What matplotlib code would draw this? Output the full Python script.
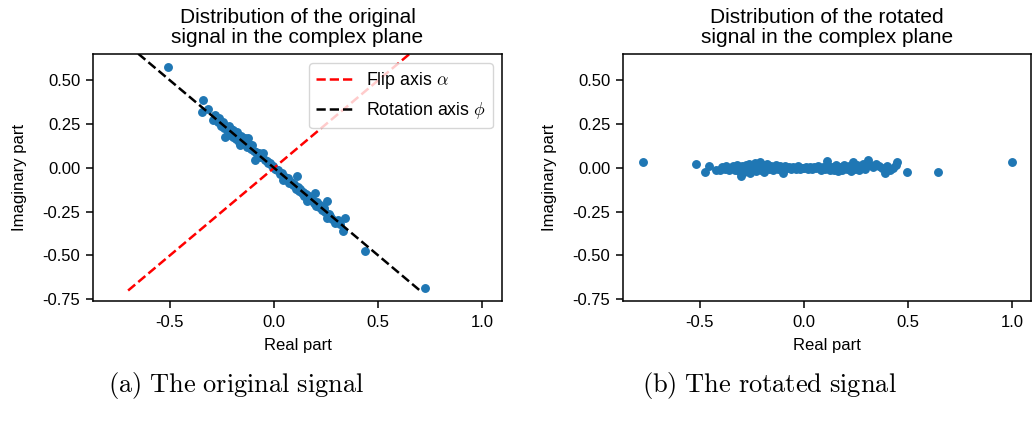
import matplotlib
matplotlib.use("Agg")
import matplotlib.pyplot as plt

plt.rcParams['font.family'] = ['Liberation Sans', 'DejaVu Sans']
plt.rcParams['mathtext.fontset'] = 'cm'
plt.rcParams['axes.unicode_minus'] = False
plt.rcParams['axes.linewidth'] = 1.1
plt.rcParams['xtick.major.size'] = 4.8
plt.rcParams['ytick.major.size'] = 4.8
plt.rcParams['xtick.major.width'] = 1.1
plt.rcParams['ytick.major.width'] = 1.1
plt.rcParams['xtick.major.pad'] = 5.5
plt.rcParams['ytick.major.pad'] = 4.5

# original signal (points in the complex plane)
orig_re = [-0.511, -0.342, -0.346, -0.318, -0.291, -0.284, -0.270, -0.262, -0.255, -0.243,
           -0.240, -0.235, -0.228, -0.221, -0.215, -0.210, -0.205, -0.198, -0.195, -0.190,
           -0.184, -0.178, -0.172, -0.166, -0.163, -0.158, -0.152, -0.146, -0.140, -0.135,
           -0.128, -0.123, -0.118, -0.112, -0.105, -0.098, -0.091, -0.088, -0.080, -0.072,
           -0.065, -0.058, -0.051, -0.044, -0.036, -0.028, -0.020, -0.012, -0.004, 0.004,
           0.012, 0.020, 0.028, 0.036, 0.045, 0.052, 0.060, 0.066, 0.074, 0.082,
           0.090, 0.098, 0.109, 0.105, 0.114, 0.120, 0.127, 0.133, 0.140, 0.146,
           0.152, 0.157, 0.162, 0.168, 0.175, 0.182, 0.190, 0.196, 0.200, 0.208,
           0.215, 0.222, 0.230, 0.238, 0.245, 0.252, 0.255, 0.262, 0.270, 0.280,
           0.292, 0.305, 0.332, 0.340, 0.318, 0.4375, 0.725]
orig_im = [0.576, 0.390, 0.320, 0.335, 0.273, 0.300, 0.262, 0.285, 0.240, 0.263,
           0.225, 0.174, 0.232, 0.205, 0.238, 0.190, 0.220, 0.176, 0.216, 0.200,
           0.162, 0.205, 0.185, 0.150, 0.131, 0.180, 0.160, 0.140, 0.172, 0.150,
           0.118, 0.169, 0.135, 0.110, 0.128, 0.098, 0.045, 0.090, 0.078, 0.085,
           0.060, 0.068, 0.083, 0.045, 0.040, 0.025, 0.030, 0.010, 0.008, -0.006,
           -0.015, -0.010, -0.035, -0.028, -0.068, -0.050, -0.070, -0.055, -0.085, -0.078,
           -0.100, -0.092, -0.049, -0.118, -0.108, -0.130, -0.122, -0.145, -0.138, -0.160,
           -0.150, -0.191, -0.172, -0.160, -0.185, -0.178, -0.200, -0.144, -0.215, -0.195,
           -0.225, -0.210, -0.238, -0.228, -0.250, -0.191, -0.286, -0.262, -0.275, -0.290,
           -0.314, -0.300, -0.362, -0.286, -0.320, -0.472, -0.686]

# rotated signal
rot_re = [-0.772, -0.520, -0.476, -0.456, -0.420, -0.403, -0.395, -0.380, -0.372, -0.360,
          -0.350, -0.342, -0.330, -0.322, -0.312, -0.300, -0.295, -0.288, -0.280, -0.272,
          -0.265, -0.258, -0.250, -0.242, -0.235, -0.228, -0.220, -0.211, -0.205, -0.198,
          -0.190, -0.182, -0.175, -0.168, -0.160, -0.150, -0.142, -0.133, -0.125, -0.115,
          -0.105, -0.099, -0.090, -0.080, -0.070, -0.060, -0.050, -0.040, -0.030, -0.020,
          -0.010, 0.000, 0.010, 0.020, 0.030, 0.040, 0.050, 0.060, 0.070, 0.080,
          0.090, 0.100, 0.109, 0.115, 0.125, 0.135, 0.145, 0.155, 0.165, 0.175,
          0.185, 0.195, 0.205, 0.215, 0.225, 0.237, 0.245, 0.255, 0.265, 0.275,
          0.285, 0.295, 0.309, 0.318, 0.330, 0.345, 0.360, 0.375, 0.389, 0.400,
          0.415, 0.430, 0.448, 0.440, 0.496, 0.645, 1.000]
rot_im = [0.036, 0.024, -0.025, 0.011, -0.012, -0.011, 0.005, -0.008, 0.010, -0.015,
          0.002, 0.012, -0.010, 0.018, -0.020, -0.049, 0.008, -0.022, 0.015, -0.005,
          0.022, -0.030, 0.010, -0.012, 0.025, -0.020, 0.005, 0.032, -0.010, 0.015,
          -0.025, 0.008, 0.020, -0.008, 0.012, -0.015, 0.005, 0.015, -0.005, 0.008,
          -0.012, -0.030, 0.010, -0.002, 0.006, -0.008, 0.004, -0.004, 0.008, -0.006,
          0.002, -0.003, 0.006, -0.004, 0.003, -0.008, 0.005, -0.002, 0.008, -0.010,
          0.004, -0.006, 0.041, 0.012, -0.015, 0.006, -0.010, 0.015, -0.020, 0.003,
          -0.012, 0.018, -0.008, 0.010, -0.018, 0.032, -0.005, 0.015, -0.012, 0.008,
          0.020, -0.006, 0.045, 0.015, 0.005, 0.020, 0.010, 0.002, -0.027, 0.008,
          -0.010, 0.000, 0.036, 0.015, -0.021, -0.021, 0.032]

# axis lines drawn on the left panel
flip_x = [-0.7, 0.7]
flip_y = [-0.7, 0.7]
rot_axis_x = [-0.7, 0.7]
rot_axis_y = [0.7, -0.7]

fig = plt.figure(figsize=(10.32, 4.30), dpi=100)
ax1 = fig.add_axes([0.0904, 0.3007, 0.3957, 0.573])
ax2 = fig.add_axes([0.604, 0.3007, 0.3953, 0.573])

fs = 12
ax1.scatter(orig_re, orig_im, s=29, color='#1f77b4')
ax1.plot(flip_x, flip_y, '--', color='red', lw=1.8, label=r'Flip axis $\alpha$')
ax1.plot(rot_axis_x, rot_axis_y, '--', color='black', lw=1.8, label=r'Rotation axis $\phi$')
ax1.legend(loc='upper right', fontsize=12.8)
ax1.set_title('Distribution of the original\nsignal in the complex plane', fontsize=15, pad=8, linespacing=1.05)

ax2.scatter(rot_re, rot_im, s=29, color='#1f77b4')
ax2.set_title('Distribution of the rotated\nsignal in the complex plane', fontsize=15, pad=8, linespacing=1.05)

for ax in (ax1, ax2):
    ax.set_xlim(-0.867, 1.092)
    ax.set_ylim(-0.758, 0.648)
    ax.set_xticks([-0.5, 0.0, 0.5, 1.0])
    ax.set_yticks([-0.75, -0.5, -0.25, 0.0, 0.25, 0.5])
    ax.tick_params(labelsize=fs)
    ax.set_xlabel('Real part', fontsize=fs, labelpad=6)
    ax.set_ylabel('Imaginary part', fontsize=fs, labelpad=11)

fig.text(0.229, 0.088, r'$\mathrm{(a)\ The\ original\ signal}$', fontsize=19, ha='center', va='baseline')
fig.text(0.746, 0.088, r'$\mathrm{(b)\ The\ rotated\ signal}$', fontsize=19, ha='center', va='baseline')

fig.savefig('out.png', dpi=100)
